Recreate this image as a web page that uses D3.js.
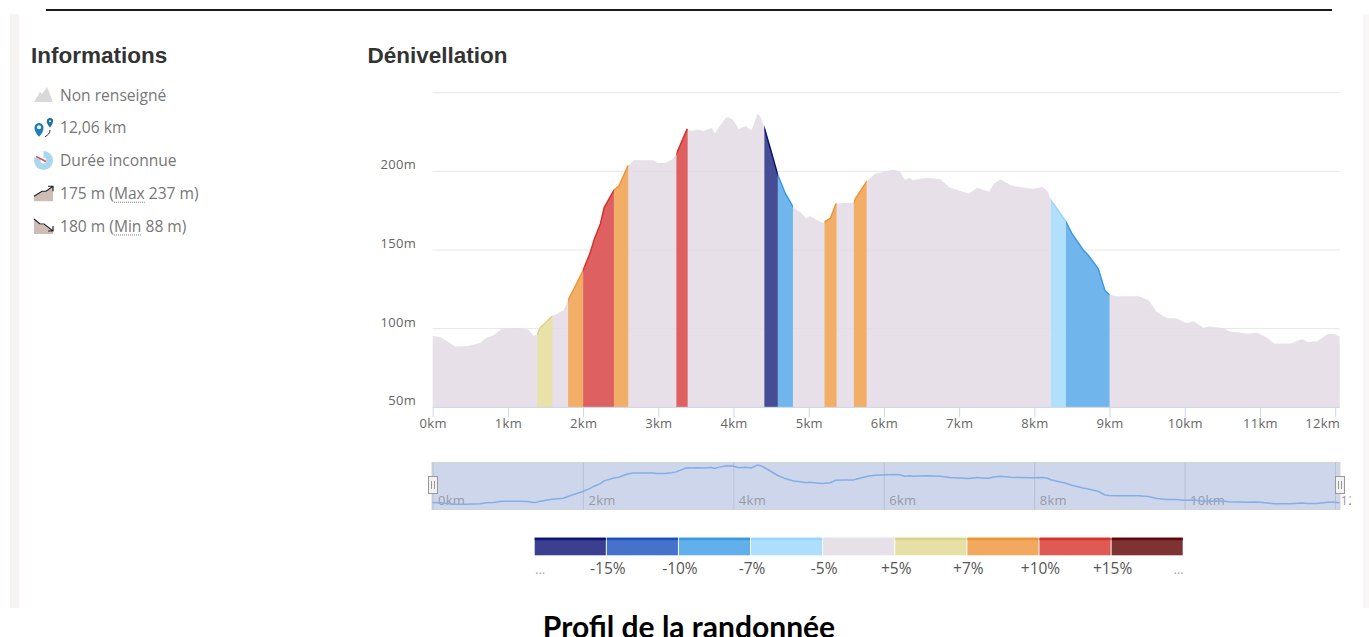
<!DOCTYPE html>
<html>
<head>
<meta charset="utf-8">
<script src="https://cdn.jsdelivr.net/npm/d3@7"></script>
<style>
body { margin: 0; background: #fff; overflow: hidden; }
svg { display: block; }
text { font-family: "Open Sans", sans-serif; }
</style>
</head>
<body>
<div id="grafica"></div>
<script>
const distanceKm = [0,.10,.19,.30,.45,.63,.72,.81,.92,1.14,1.27,1.34,1.39,1.43,1.59,1.67,1.74,1.80,1.89,1.99,2.09,2.15,2.23,2.28,2.41,2.48,2.59,2.67,2.93,2.99,3.09,3.18,3.24,3.38,3.44,3.52,3.60,3.71,3.75,3.82,3.91,3.99,4.07,4.16,4.24,4.32,4.36,4.41,4.49,4.59,4.69,4.80,4.89,4.97,5.01,5.18,5.21,5.29,5.36,5.48,5.60,5.62,5.77,5.88,6.12,6.21,6.28,6.35,6.38,6.57,6.75,6.88,7.13,7.24,7.31,7.40,7.46,7.55,7.69,7.80,7.98,8.11,8.18,8.22,8.41,8.50,8.65,8.72,8.85,8.94,9.00,9.10,9.39,9.52,9.63,9.76,9.90,9.99,10.05,10.12,10.25,10.32,10.52,10.59,10.84,10.96,11.10,11.19,11.41,11.56,11.63,11.76,11.90,11.99,12.06]
const elevationM = [95.3,94.7,92,88.6,88.8,90.9,94.3,95.8,100,100.4,99.4,95.3,96.4,100.6,108,110,111.7,118,126.5,136,147.7,157,166.7,177,188,191,203,207,207,205.3,205.3,207.4,211,226.7,225.6,226.6,225.6,227.5,224,229,234.5,233,227,228.8,226,236.7,234.5,227.5,214.4,197.5,185.8,176.7,174,170,171.6,167.4,167.8,170.3,179.2,180,180,182.6,193.6,198.5,201,200,194.7,196,194.3,196,195,189.6,185.8,189.6,188.4,187,192,195,191,190,189,190,187,181.6,168.9,160.4,150,146.5,138,124,121.6,120.6,120.6,118,110.6,106.8,106.4,104,103.8,104.7,100.4,101.5,100.2,98.3,96.8,97.5,94,90.5,90.5,93.4,91.5,92,96.6,96.6,95]

// tronçons colorés
const segmentStart = [1.39,1.80,2.00,2.41,3.24,4.41,4.59,5.21,5.60,8.22,8.42]
const segmentEnd = [1.59,2.00,2.41,2.60,3.39,4.59,4.79,5.37,5.77,8.42,9.00]
const segmentClass = ['+5%','+7%','+10%','+7%','+10%','-15%','-7%','+7%','+7%','-5%','-7%']

const slopeClasses = ['-15%','-10%','-7%','-5%','0','+5%','+7%','+10%','+15%']
const slopeFill = ['#454e94','#4672cc','#70b6ec','#b0e0fc','#e6e0e8','#e8e1a8','#f2ae66','#df6060','#7f3232']
const slopeLine = ['#0c1478','#1c4fc0','#3a9ae2','#9ad6fb','#e6e0e8','#dcd28c','#ee9433','#d8302a','#600808']
const legendFill = ['#3b3f8f','#4672cc','#62b0ea','#addefe','#e6e0e8','#e7e0a6','#f2a95f','#e05a54','#7f3232']
const legendLabels = ['-15%','-10%','-7%','-5%','+5%','+7%','+10%','+15%']

const yTicks = [50,100,150,200,250]
const xTicks = [0,1,2,3,4,5,6,7,8,9,10,11,12]
const navTicks = [0,2,4,6,8,10,12]

const infoLabels = ['Non renseigné','12,06 km','Durée inconnue',['175 m (','Max',' 237 m)'],['180 m (','Min',' 88 m)']]

const svgWidth = 1369
const svgHeight = 637

const svg = d3.select('#grafica')
    .append('svg')
    .attr('width', svgWidth)
    .attr('height', svgHeight)

// bandes de page et filet du haut
svg.append('rect').attr('x',10).attr('y',14).attr('width',9).attr('height',594).style('fill','#f8f3f3')
svg.append('rect').attr('x',1363).attr('y',14).attr('width',6).attr('height',594).style('fill','#faf6f6')
svg.append('line').attr('x1',46).attr('x2',1332).attr('y1',10).attr('y2',10)
    .style('stroke','#1a1a1a').style('stroke-width',2)

// titres
svg.append('text').attr('x',31).attr('y',63).text('Informations')
    .style('font-family','"Liberation Sans"').style('font-weight','bold').style('font-size','22.5px').style('fill','#333')
svg.append('text').attr('x',367.5).attr('y',63).text('Dénivellation')
    .style('font-family','"Liberation Sans"').style('font-weight','bold').style('font-size','22.5px').style('fill','#333')
svg.append('text').attr('x',689).attr('y',637.5).attr('text-anchor','middle').text('Profil de la randonnée')
    .style('font-family','Lato').style('font-weight','bold').style('font-size','30px').style('fill','#000')

// liste d'informations
const rowY = d3.scalePoint().domain(d3.range(infoLabels.length)).range([95,226])
const rows = svg.selectAll('.row').data(infoLabels).enter().append('g')
    .attr('class','row')
    .attr('transform',(d,i)=>`translate(0,${rowY(i)})`)

rows.append('text')
    .attr('x',60).attr('y',5.5)
    .style('font-size','15.6px').style('fill','#777')
    .each(function(d){
        const t = d3.select(this)
        if (typeof d === 'string') { t.text(d); return }
        t.text(d.join(''))
        const x0 = this.getSubStringLength(0,d[0].length)
        const w = this.getSubStringLength(d[0].length,d[1].length)
        d3.select(this.parentNode).append('line')
            .attr('x1',60+x0).attr('x2',60+x0+w).attr('y1',9).attr('y2',9)
            .style('stroke','#777').style('stroke-width',1).style('stroke-dasharray','1 1')
    })

// icones
const ic = i=>rows.filter((d,k)=>k===i)
ic(0).append('path').attr('d','M34 7 L40 -3 L42 -1 L47 -8 L53 7 Z').style('fill','#d9d9d9')
ic(1).append('path').attr('d','M39 9 C33 3 33 -4 39 -5 C45 -4 45 3 39 9 Z').style('fill','#1d7fb8')
ic(1).append('circle').attr('cx',39).attr('cy',-0.5).attr('r',2).style('fill','#fff')
ic(1).append('path').attr('d','M50 0 C47 -4 46 -6 47.5 -8.5 C49 -10.5 52 -10 53 -8 C53.6 -6 52 -3 50 0 Z').style('fill','#1d6f9e')
ic(1).append('circle').attr('cx',50).attr('cy',-6.5).attr('r',1).style('fill','#fff')
ic(1).append('path').attr('d','M50 2 C50 6 48 7 45 9').style('fill','none').style('stroke','#333')
ic(2).append('circle').attr('cx',43.5).attr('cy',0).attr('r',9.5).style('fill','#a9d8ee')
ic(2).append('path').attr('d','M43.5 0 L34.5 -3 A9.5 9.5 0 0 1 43.5 -9.5 Z').style('fill','#fff')
ic(2).append('circle').attr('cx',43.5).attr('cy',0).attr('r',3).style('fill','#fff')
ic(2).append('line').attr('x1',36).attr('y1',-4).attr('x2',46).attr('y2',1).style('stroke','#d9534f').style('stroke-width',1.6)
ic(3).append('path').attr('d','M34 8 L34 3 L42 -2 L46 -2 L53 -6 L53 8 Z').style('fill','#cdbdb4')
ic(3).append('path').attr('d','M34 3 L42 -2 L46 -2 L53 -7 M48 -7 L53 -7 L53 -2').style('fill','none').style('stroke','#222').style('stroke-width',1.2)
ic(4).append('path').attr('d','M34 -7 L34 8 L53 8 L53 6 L44 -1 L40 -1 Z').style('fill','#cdbdb4')
ic(4).append('path').attr('d','M34 -7 L40 -2 L44 -2 L53 5 M53 0 L53 5 L48 5').style('fill','none').style('stroke','#222').style('stroke-width',1.2)

// escalas
const scaleX = d3.scaleLinear().domain([0,12.06]).range([432.7,1339.7])
const scaleY = d3.scaleLinear().domain([50,250]).range([407.3,92.7])

const points = distanceKm.map((d,i)=>[d,elevationM[i]])

const areaGen = d3.area()
    .x(d=>scaleX(d[0]))
    .y0(scaleY(50))
    .y1(d=>scaleY(d[1]))
const lineGen = d3.line()
    .x(d=>scaleX(d[0]))
    .y(d=>scaleY(d[1]))

// grille et axe Y
const axisY = d3.axisLeft(scaleY)
    .tickValues(yTicks)
    .tickSize(0)
    .tickFormat(d=>d===250?'':d+'m')
const gy = svg.append('g').attr('transform','translate(416,0)').call(axisY)
gy.select('.domain').remove()
gy.selectAll('text')
    .attr('x',0).attr('dy',-2.5)
    .style('font-family','"Open Sans"').style('font-size','13px').style('letter-spacing','.3px').style('fill','#666')
svg.selectAll('.grid').data(yTicks).enter().append('line')
    .attr('class','grid')
    .attr('x1',432.7).attr('x2',1339.7)
    .attr('y1',d=>scaleY(d)).attr('y2',d=>scaleY(d))
    .style('stroke','#e6e6e6')

// profil
svg.append('path').datum(points)
    .attr('d',areaGen)
    .style('fill','#e3dae4').style('opacity',.85)

// tronçons
const defs = svg.append('defs')
segmentStart.forEach((s,i)=>{
    const c = slopeClasses.indexOf(segmentClass[i])
    defs.append('clipPath').attr('id','seg'+i).append('rect')
        .attr('x',scaleX(s)).attr('width',scaleX(segmentEnd[i])-scaleX(s))
        .attr('y',scaleY(250)).attr('height',scaleY(50)-scaleY(250))
    svg.append('path').datum(points)
        .attr('d',areaGen)
        .attr('clip-path',`url(#seg${i})`)
        .style('fill',slopeFill[c])
    svg.append('path').datum(points)
        .attr('d',lineGen)
        .attr('clip-path',`url(#seg${i})`)
        .style('fill','none').style('stroke',slopeLine[c]).style('stroke-width',1.5)
})

// axe X
const axisX = d3.axisBottom(scaleX)
    .tickValues(xTicks)
    .tickSize(10)
    .tickPadding(0)
    .tickFormat(d=>d+'km')
const gx = svg.append('g').attr('transform',`translate(0,${scaleY(50)})`).call(axisX)
gx.select('.domain').attr('d',`M${scaleX(0)},0H${scaleX(12.06)}`).style('stroke','#ccd6eb')
gx.selectAll('line').style('stroke','#ccd6eb')
gx.selectAll('text')
    .attr('y',11.5)
    .style('font-family','"Open Sans"').style('font-size','13px').style('letter-spacing','.3px').style('fill','#666')
gx.selectAll('.tick').filter(d=>d===12).select('text')
    .attr('text-anchor','end').attr('x',scaleX(12.06)-scaleX(12))

// navigateur
const navX = d3.scaleLinear().domain([0,12.06]).range([432.5,1339.5])
const navY = d3.scaleLinear().domain([88,237]).range([504.5,465])
const nav = svg.append('g')
defs.append('clipPath').attr('id','navclip').append('rect')
    .attr('x',432).attr('y',455).attr('width',919).attr('height',60)
nav.append('rect').attr('x',432).attr('y',462.5).attr('width',908).attr('height',47)
    .style('fill','#cdd6ea').style('stroke','#d4d4d4')
const navAxis = d3.axisBottom(navX).tickValues(navTicks).tickSize(-47).tickFormat(d=>d+'km')
const gn = nav.append('g').attr('clip-path','url(#navclip)')
    .append('g').attr('transform','translate(0,509.5)').call(navAxis)
gn.select('.domain').remove()
gn.selectAll('line').style('stroke','#b9c1d4')
gn.selectAll('text')
    .attr('text-anchor','start').attr('x',5).attr('y',-5).attr('dy',0)
    .style('font-family','"Open Sans"').style('font-size','13px').style('letter-spacing','.3px').style('fill','#979aa6')
nav.append('path').datum(points)
    .attr('d',d3.line().x(d=>navX(d[0])).y(d=>navY(d[1])))
    .style('fill','none').style('stroke','#85aee6').style('stroke-width',1.5)

const handles = nav.selectAll('.handle').data([0,12.06]).enter().append('g')
    .attr('class','handle')
    .attr('transform',d=>`translate(${Math.round(navX(d))},476)`)
handles.append('rect').attr('x',-4.5).attr('y',.5).attr('width',9).attr('height',17)
    .style('fill','#f2f2f2').style('stroke','#999')
handles.selectAll('line').data([-1.5,1.5]).enter().append('line')
    .attr('x1',d=>d).attr('x2',d=>d).attr('y1',5).attr('y2',13)
    .style('stroke','#999')

// legende
const legendX = d3.scaleBand().domain(slopeClasses).range([534.7,1183.7])
const legend = svg.append('g')
legend.selectAll('.swatch').data(slopeClasses).enter().append('rect')
    .attr('class','swatch')
    .attr('x',d=>legendX(d)).attr('y',537.7)
    .attr('width',legendX.bandwidth()-1).attr('height',17.6)
    .style('fill',(d,i)=>legendFill[i])
legend.selectAll('.top').data(slopeClasses).enter().append('rect')
    .attr('class','top')
    .attr('x',d=>legendX(d)).attr('y',537.7)
    .attr('width',legendX.bandwidth()-1).attr('height',2.5)
    .style('fill',(d,i)=>slopeLine[i])
legend.selectAll('.lab').data(legendLabels).enter().append('text')
    .attr('class','lab')
    .attr('x',(d,i)=>legendX(slopeClasses[i+1])+1)
    .attr('y',574)
    .attr('text-anchor','middle')
    .text(d=>d)
    .style('font-size','15.5px').style('fill','#555')
legend.append('text').attr('x',535).attr('y',574).text('...')
    .style('font-size','13px').style('fill','#aaa')
legend.append('text').attr('x',1183.7).attr('y',574).attr('text-anchor','end').text('...')
    .style('font-size','13px').style('fill','#aaa')
</script>
</body>
</html>
